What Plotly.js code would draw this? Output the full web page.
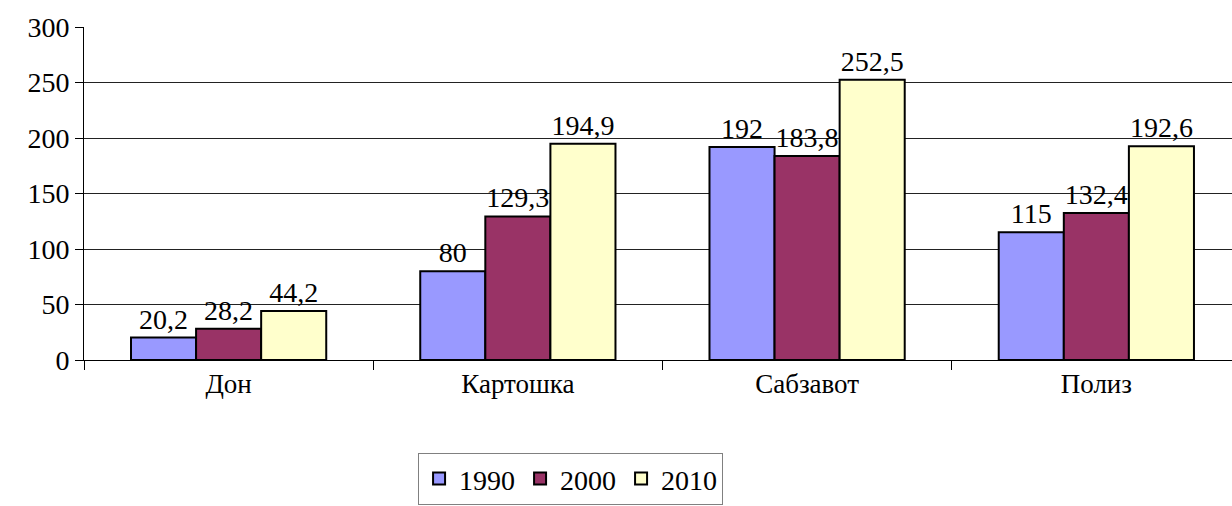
<!DOCTYPE html>
<html>
<head>
<meta charset="utf-8">
<script src="https://cdn.plot.ly/plotly-3.0.1.min.js"></script>
<style>html,body{margin:0;padding:0;overflow:hidden;background:#fff}</style>
</head>
<body>
<div id="chart" style="width:1232px;height:506px"></div>
<script>
const categories = ["Дон", "Картошка", "Сабзавот", "Полиз"];
const seriesNames = ["1990", "2000", "2010"];
const values1990 = [20.2, 80, 192, 115];
const values2000 = [28.2, 129.3, 183.8, 132.4];
const values2010 = [44.2, 194.9, 252.5, 192.6];
const colors = ["#9999FF", "#993366", "#FFFFCC"];

const FAM = "Liberation Serif, Tinos, Times New Roman, Times, DejaVu Serif, serif";
const font = {family: FAM, size: 28, color: "#000"};
const allValues = [values1990, values2000, values2010];

const data = allValues.map((vals, i) => ({
  type: "bar",
  name: seriesNames[i],
  x: categories,
  y: vals,
  marker: {color: colors[i], line: {color: "#000", width: 2}},
  texttemplate: "%{y}",
  textposition: "outside",
  constraintext: "none",
  cliponaxis: false,
  textfont: font,
  hoverinfo: "skip"
}));

const layout = {
  width: 1232,
  height: 506,
  margin: {l: 84, r: 0, t: 27, b: 146},
  separators: ", ",
  paper_bgcolor: "#fff",
  plot_bgcolor: "#fff",
  font: font,
  barmode: "group",
  bargap: 0.325,
  bargroupgap: 0,
  showlegend: true,
  legend: {
    orientation: "h",
    x: 0.291, xanchor: "left",
    y: -0.279, yanchor: "top",
    bordercolor: "#808080",
    borderwidth: 1,
    font: {family: FAM, size: 28, color: "#000"},
    itemwidth: 30,
    tracegroupgap: 0
  },
  xaxis: {
    type: "category",
    range: [-0.5, 3.469],
    showgrid: false,
    showline: true,
    linecolor: "#000",
    linewidth: 1,
    ticks: "outside",
    tickson: "boundaries",
    ticklen: 9,
    tickcolor: "#000",
    tickfont: {family: FAM, size: 27, color: "#000"},
    zeroline: false,
    fixedrange: true
  },
  yaxis: {
    range: [0, 300],
    dtick: 50,
    showgrid: true,
    gridcolor: "#222",
    gridwidth: 1,
    showline: true,
    linecolor: "#000",
    linewidth: 1,
    ticks: "outside",
    ticklen: 8,
    tickcolor: "#000",
    tickfont: {family: FAM, size: 28, color: "#000"},
    zeroline: false,
    fixedrange: true
  }
};

Plotly.newPlot("chart", data, layout, {displayModeBar: false, staticPlot: true});
</script>
</body>
</html>
